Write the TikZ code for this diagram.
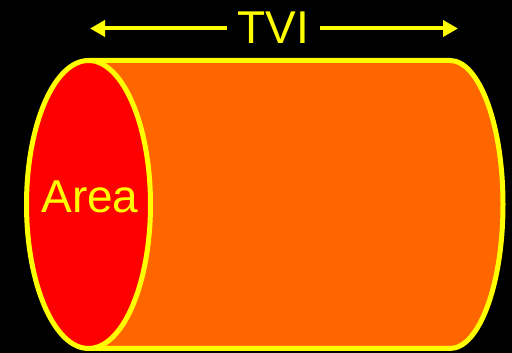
\documentclass[tikz,border=0pt]{standalone}
\usepackage{fontspec}
\setmainfont{Liberation Sans}
\usetikzlibrary{arrows.meta,shapes.geometric}
\definecolor{yel}{HTML}{FFFF00}
\definecolor{org}{HTML}{FF6600}
\definecolor{rd}{HTML}{FF0000}
\begin{document}
\begin{tikzpicture}[x=1pt,y=1pt,
  outline/.style={draw=yel,line width=5pt},
  lbl/.style={text=yel,font=\fontsize{46}{50}\selectfont,inner sep=0pt},
  dimarrow/.style={draw=yel,line width=4pt,-{Triangle[length=15pt,width=16pt]}}]
\fill[black] (0,0) rectangle (512,353);
\useasboundingbox (0,0) rectangle (512,353);
\coordinate (tl) at (89,292.5);
\coordinate (tr) at (450,292.5);
\coordinate (br) at (450,4.5);
\coordinate (bl) at (89,4.5);
\filldraw[fill=org,outline] (bl) -- (br) arc[start angle=-90,end angle=90,x radius=53,y radius=144] -- (tl);
\node[ellipse,fill=rd,outline,minimum width=124pt,minimum height=288pt,inner sep=0pt] (face) at (88.5,148.5) {};
\node[lbl,anchor=base] (arealbl) at (90,140) {Area};
\coordinate (la) at (90,324.5);
\coordinate (ra) at (458,324.5);
\node[lbl,anchor=base,inner xsep=11pt] (tvi) at (273.5,309) {TVI};
\draw[dimarrow] (tvi.west |- la) -- (la);
\draw[dimarrow] (tvi.east |- ra) -- (ra);
\end{tikzpicture}
\end{document}
